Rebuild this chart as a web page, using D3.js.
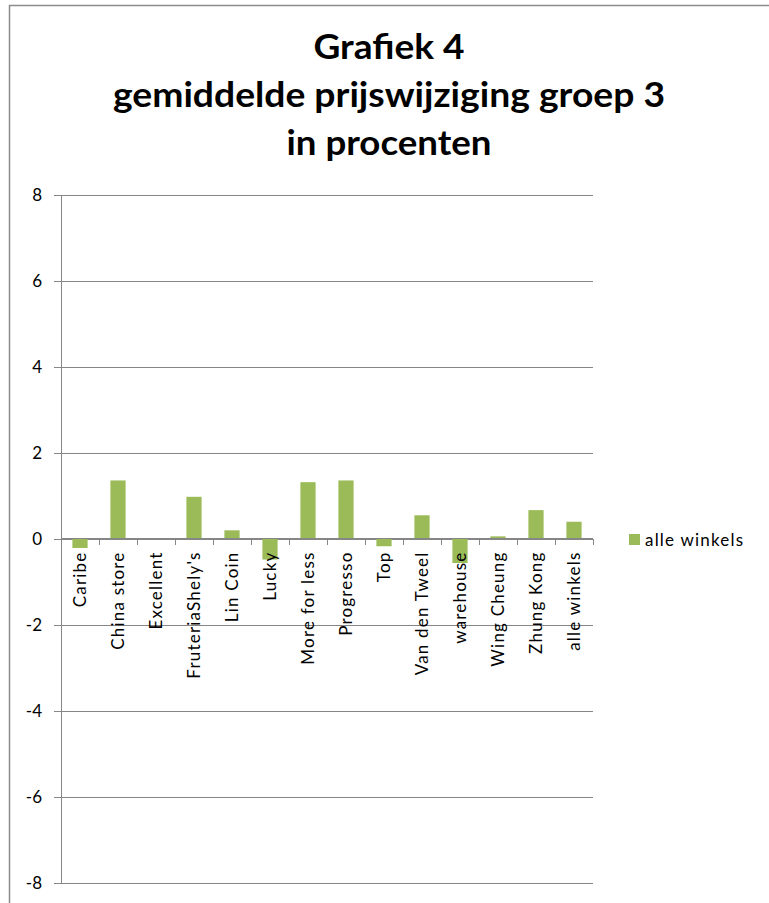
<!DOCTYPE html>
<html>
<head>
<meta charset="utf-8">
<script src="https://cdn.jsdelivr.net/npm/d3@7"></script>
<style>
html,body{margin:0;padding:0;background:#fff;}
svg{display:block;}
text{font-family:Lato,"Open Sans",sans-serif;}
</style>
</head>
<body>
<svg id="chart" width="769" height="903"></svg>
<script>
const titleLines = ["Grafiek 4", "gemiddelde prijswijziging groep 3", "in procenten"];
const categories = ["Caribe","China store","Excellent","FruteriaShely's","Lin Coin","Lucky","More for less","Progresso","Top","Van den Tweel","warehouse","Wing Cheung","Zhung Kong","alle winkels"];
const values = [-0.22, 1.35, 0, 0.97, 0.19, -0.49, 1.31, 1.35, -0.18, 0.54, -0.57, 0.05, 0.66, 0.39];
const seriesName = "alle winkels";
const yTicks = [-8,-6,-4,-2,0,2,4,6,8];

(function(){
const svg = d3.select("#chart");
const W = 769, H = 903;
const pLeft = 61, pRight = 593, pTop = 194.5, pBottom = 882.5;
const green = "#9BBB59", gridCol = "#868686";

// outer border
svg.append("path").attr("d", `M9.5,${H+2}V5.5H${W+2}`).attr("fill","none").attr("stroke","#8c8c8c").attr("stroke-width",1.5);

// title
const titleWidths = [151, 552, 205];
const baselines = [59, 107, 155];
titleLines.forEach((t,i)=>{
  svg.append("text").attr("text-anchor","middle").attr("font-weight","bold").attr("font-size",34).attr("fill","#000")
    .attr("x", 389).attr("y", baselines[i])
    .attr("textLength", titleWidths[i]).attr("lengthAdjust","spacingAndGlyphs")
    .text(t);
});

const y = d3.scaleLinear().domain([-8,8]).range([pBottom, pTop]);
const x = d3.scaleBand().domain(categories).range([pLeft, pRight]).paddingInner(0.6).paddingOuter(0.3);

// gridlines + y axis
const yAxis = d3.axisLeft(y).tickValues(yTicks).tickSize(-(pRight-pLeft)).tickPadding(19).tickFormat(d => String(d));
const gy = svg.append("g").attr("transform",`translate(${pLeft},0)`).call(yAxis);
gy.select(".domain").remove();
gy.selectAll(".tick line").attr("stroke",gridCol).attr("x1",-7).attr("shape-rendering","crispEdges");
gy.selectAll(".tick text").attr("font-size",17).attr("fill","#000").attr("font-family","Lato,sans-serif").attr("dy","0.36em");
svg.append("line").attr("x1",pLeft).attr("x2",pLeft).attr("y1",pTop).attr("y2",pBottom).attr("stroke",gridCol).attr("shape-rendering","crispEdges");

// bars
svg.append("g").selectAll("rect").data(categories).join("rect")
  .attr("x", d=>x(d))
  .attr("width", x.bandwidth())
  .attr("y", (d,i)=>y(Math.max(0, values[i])))
  .attr("height", (d,i)=>Math.abs(y(values[i]) - y(0)))
  .attr("fill", green);

// category axis at zero
const step = x.step();
const gx = svg.append("g").attr("transform",`translate(0,${y(0)})`);
gx.append("line").attr("x1",pLeft).attr("x2",pRight).attr("stroke",gridCol).attr("shape-rendering","crispEdges");
const bounds = d3.range(categories.length+1).map(i=>pLeft + i*step);
gx.selectAll("line.tk").data(bounds).join("line").attr("class","tk")
  .attr("x1",d=>d).attr("x2",d=>d).attr("y1",0).attr("y2",6)
  .attr("stroke",gridCol).attr("shape-rendering","crispEdges");
gx.selectAll("text.lbl").data(categories).join("text").attr("class","lbl")
  .attr("transform", d=>`translate(${x(d)+x.bandwidth()/2},13) rotate(-90)`)
  .attr("text-anchor","end").attr("dy","0.36em")
  .attr("font-size",17).attr("letter-spacing","1.2px").attr("fill","#000")
  .text(d=>d);

// legend
const lg = svg.append("g").attr("transform","translate(629,534)");
lg.append("rect").attr("width",11).attr("height",11).attr("fill",green);
lg.append("text").attr("x",16).attr("y",6).attr("dy","0.36em").attr("font-size",17).attr("letter-spacing","1.2px").attr("fill","#000").text(seriesName);
})();
</script>
</body>
</html>
